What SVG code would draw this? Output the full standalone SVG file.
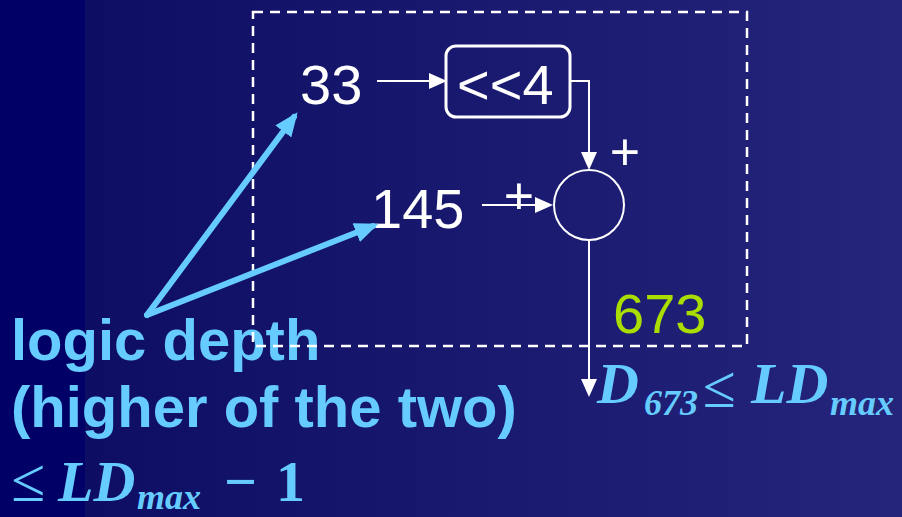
<svg xmlns="http://www.w3.org/2000/svg" width="902" height="517" viewBox="0 0 902 517">
<defs>
<linearGradient id="bg" x1="0" y1="0" x2="1" y2="0">
<stop offset="0" stop-color="#0b0b62"/>
<stop offset="1" stop-color="#25257b"/>
</linearGradient>
<marker id="wa" markerUnits="userSpaceOnUse" viewBox="0 0 18 16" refX="14" refY="8" markerWidth="18" markerHeight="16" orient="auto">
<path d="M0,0 L18,8 L0,16 z" fill="#fff"/>
</marker>
<marker id="ba" markerUnits="userSpaceOnUse" viewBox="0 0 24 20" refX="18" refY="10" markerWidth="24" markerHeight="20" orient="auto">
<path d="M0,0 L24,10 L0,20 z" fill="#66ccff"/>
</marker>
<style>
.num{font-family:"Liberation Sans",Arial,sans-serif;font-size:56px;fill:#fff}
.plus{font-family:"Liberation Sans",Arial,sans-serif;font-size:52px;fill:#fff;text-anchor:middle}
.lbl{font-family:"Liberation Sans",Arial,sans-serif;font-size:58px;font-weight:bold;fill:#66ccff}
.m{font-family:"Liberation Serif","Times New Roman",serif;fill:#66ccff;font-weight:bold}
.le{font-family:"Liberation Serif","Times New Roman",serif;fill:#66ccff}
.mi{font-style:italic}
.w{stroke:#fff;stroke-width:2;fill:none}
.b{stroke:#66ccff;stroke-width:6;fill:none;stroke-linecap:round}
</style>
</defs>
<rect x="0" y="0" width="902" height="517" fill="url(#bg)"/>
<rect x="0" y="0" width="85" height="517" fill="#000066"/>

<g id="label-logic-depth">
<text class="lbl" x="11" y="360">logic depth</text>
<text class="lbl" x="11" y="427">(higher of the two)</text>
<text class="le" x="11" y="501" font-size="62">≤</text>
<text class="m" y="501"><tspan x="58" class="mi" font-size="58">LD</tspan><tspan x="137" y="509" class="mi" font-size="36">max</tspan><tspan x="224" y="501" font-size="58">−</tspan><tspan x="276" font-size="58">1</tspan></text>
</g>

<g id="boundary">
<rect x="253" y="12" width="494" height="334" fill="none" stroke="#fff" stroke-width="2.5" stroke-dasharray="10,7"/>
</g>

<g id="node-33"><text class="num" x="300" y="104">33</text></g>
<g id="node-shift">
<rect x="446" y="46" width="124" height="71" rx="10" fill="none" stroke="#fff" stroke-width="3"/>
<text class="num" x="457" y="104">&lt;&lt;4</text>
</g>
<g id="node-145"><text class="num" x="371" y="228">145</text></g>
<g id="node-adder">
<circle cx="589" cy="205" r="35" fill="none" stroke="#fff" stroke-width="2"/>
<text class="plus" x="625" y="170">+</text>
<text class="plus" x="519" y="214">+</text>
</g>
<g id="node-673"><text class="num" x="613" y="333" style="fill:#aadd00">673</text></g>
<g id="label-d673">
<text class="le" x="703" y="407" font-size="60">≤</text>
<text class="m" y="403"><tspan x="597" class="mi" font-size="58">D</tspan><tspan x="644" y="415" class="mi" font-size="36">673</tspan><tspan x="751" y="403" class="mi" font-size="58">LD</tspan><tspan x="830" y="415" class="mi" font-size="36">max</tspan></text>
</g>

<g id="connectors">
<line class="w" x1="377" y1="81" x2="443" y2="81" marker-end="url(#wa)"/>
<path class="w" d="M570,81 H589 V166" marker-end="url(#wa)"/>
<line class="w" x1="482" y1="205" x2="549" y2="205" marker-end="url(#wa)"/>
<line class="w" x1="589" y1="240" x2="589" y2="393" marker-end="url(#wa)"/>
<line class="b" x1="147" y1="315" x2="294" y2="117" marker-end="url(#ba)"/>
<line class="b" x1="147" y1="315" x2="373" y2="226" marker-end="url(#ba)"/>
</g>
</svg>
